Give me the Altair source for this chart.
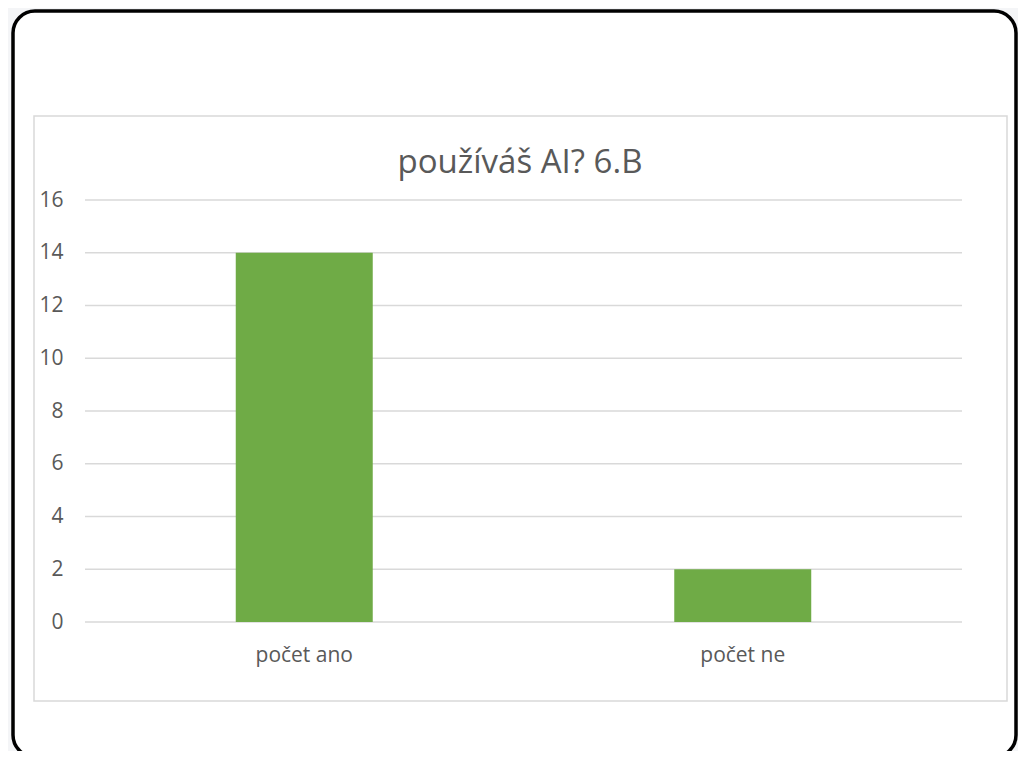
import altair as alt
import pandas as pd

# ---- data ----
categories = ["počet ano", "počet ne"]
values = [14, 2]
y_ticks = [0, 2, 4, 6, 8, 10, 12, 14, 16]
title_text = ["používáš AI? 6.B"]

TEXT = "#595959"
GRID = "#d9d9d9"
GREEN = "#6fab46"
FONT = "Open Sans"

W, H = 877, 422

bars_df = pd.DataFrame({"kategorie": categories, "pocet": values})
ticks_df = pd.DataFrame({"pocet": y_ticks})
title_df = pd.DataFrame({"t": title_text})

y_scale = alt.Scale(domain=[0, 16], nice=False, zero=True)
x_scale = alt.Scale(paddingInner=0.6876, paddingOuter=0.3438)

y_axis = alt.Axis(title=None, values=y_ticks, grid=False, domain=False,
                  ticks=False, labelPadding=22, labelFontSize=21,
                  labelColor=TEXT, labelFont=FONT, zindex=1)

# decorative outer frame (rounded, black) and Excel chart-area border
frame = alt.Chart(alt.Data(values=[{}])).mark_rect(
    cornerRadius=22, fill="white", stroke="black", strokeWidth=3.5
).encode(x=alt.value(-72), x2=alt.value(931), y=alt.value(-189), y2=alt.value(557))

chart_area = alt.Chart(alt.Data(values=[{}])).mark_rect(
    fill="white", stroke=GRID, strokeWidth=1.5
).encode(x=alt.value(-51), x2=alt.value(922), y=alt.value(-84), y2=alt.value(501))

grid = alt.Chart(ticks_df).mark_rule(color=GRID, strokeWidth=1.3).encode(
    y=alt.Y("pocet:Q", scale=y_scale, axis=y_axis)
)

bars = alt.Chart(bars_df).mark_bar(color=GREEN).encode(
    x=alt.X("kategorie:N", sort=categories, scale=x_scale,
            axis=alt.Axis(title=None, labelAngle=0, domain=False, ticks=False,
                          labelPadding=22, labelFontSize=21, labelColor=TEXT,
                          labelFont=FONT, zindex=1)),
    y=alt.Y("pocet:Q", scale=y_scale, axis=y_axis),
)

title = alt.Chart(title_df).mark_text(
    fontSize=33, font=FONT, color=TEXT, align="center", baseline="alphabetic"
).encode(x=alt.value(435), y=alt.value(-27), text="t:N")

chart = alt.layer(frame, chart_area, grid, bars, title).properties(
    width=W, height=H,
    autosize=alt.AutoSizeParams(type="none"),
    padding={"left": 77, "top": 192, "right": 56, "bottom": 129},
    background="#f4f5f7",
).configure_view(stroke=None)

chart.save("out.html", embed_options={"renderer": "svg", "actions": False})
